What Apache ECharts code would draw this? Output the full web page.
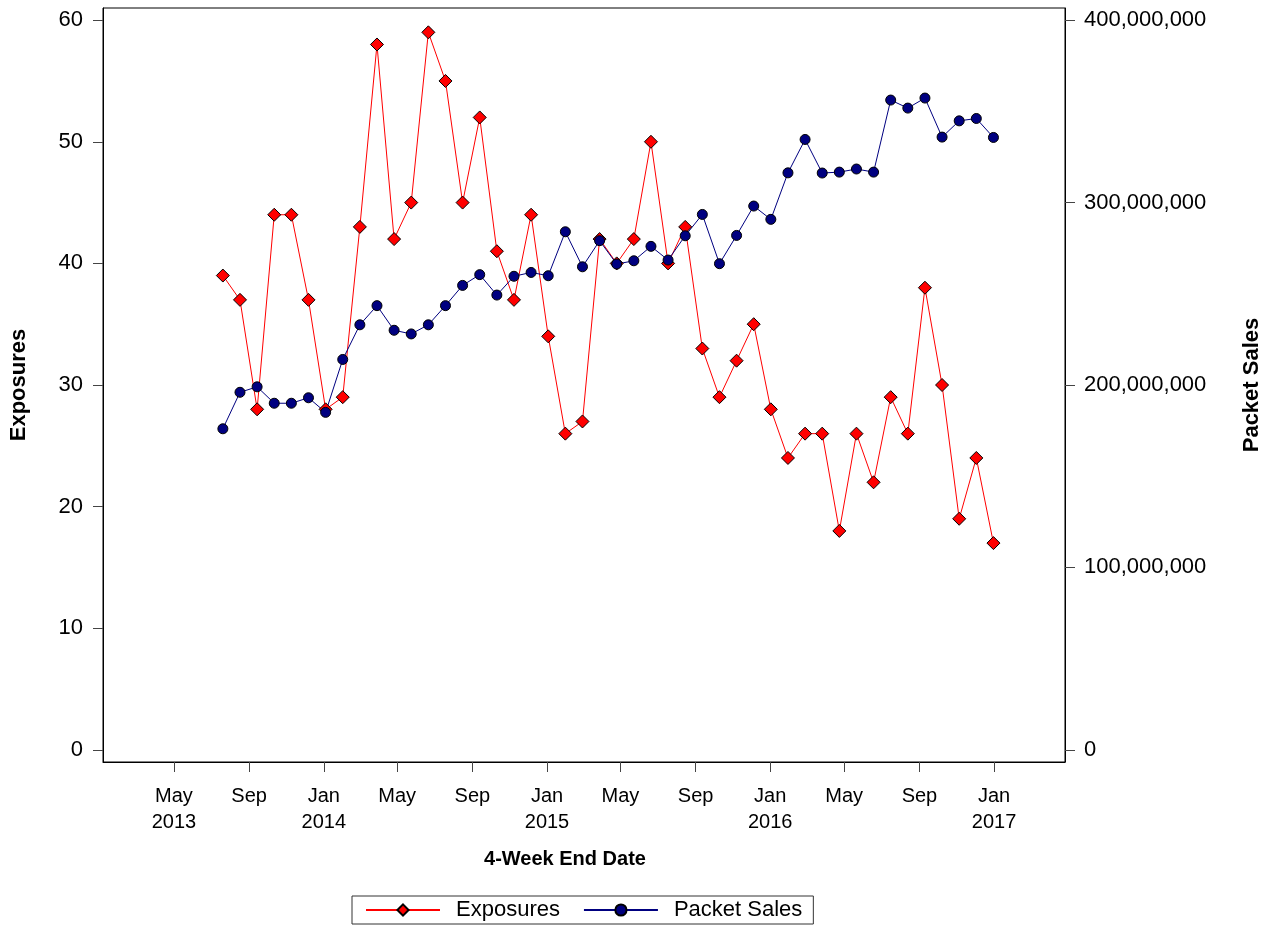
<!DOCTYPE html>
<html>
<head>
<meta charset="utf-8">
<script src="https://cdn.jsdelivr.net/npm/echarts@6/dist/echarts.min.js"></script>
<style>
html,body{margin:0;padding:0;background:#fff;}
#chart{width:1273px;height:926px;}
</style>
</head>
<body>
<div id="chart"></div>
<script>
const dates = ['2013-07-20','2013-08-17','2013-09-14','2013-10-12','2013-11-09','2013-12-07',
  '2014-01-04','2014-02-01','2014-03-01','2014-03-29','2014-04-26','2014-05-24','2014-06-21',
  '2014-07-19','2014-08-16','2014-09-13','2014-10-11','2014-11-08','2014-12-06',
  '2015-01-03','2015-01-31','2015-02-28','2015-03-28','2015-04-25','2015-05-23','2015-06-20',
  '2015-07-18','2015-08-15','2015-09-12','2015-10-10','2015-11-07','2015-12-05',
  '2016-01-02','2016-01-30','2016-02-27','2016-03-26','2016-04-23','2016-05-21','2016-06-18',
  '2016-07-16','2016-08-13','2016-09-10','2016-10-08','2016-11-05','2016-12-03','2016-12-31'];

const exposures = [39,37,28,44,44,37,28,29,43,58,42,45,59,55,45,52,41,37,44,34,
  26,27,42,40,42,50,40,43,33,29,32,35,28,24,26,26,18,26,22,29,26,38,30,19,24,17];

const packetSales = [176000000,196000000,199000000,190000000,190000000,193000000,185000000,
  214000000,233000000,243500000,230000000,228000000,233000000,243500000,254600000,260500000,
  249300000,259600000,261700000,259900000,284000000,264800000,279100000,266300000,268100000,
  276000000,268500000,281800000,293500000,266500000,282000000,298100000,290800000,316300000,
  334600000,316200000,316700000,318400000,316700000,356200000,351800000,357300000,335900000,
  344800000,346100000,335700000];

const xTickDates = ['2013-05-01','2013-09-01','2014-01-01','2014-05-01','2014-09-01','2015-01-01',
  '2015-05-01','2015-09-01','2016-01-01','2016-05-01','2016-09-01','2017-01-01'];
const xTickLabels = ['May\n2013','Sep','Jan\n2014','May','Sep','Jan\n2015','May','Sep','Jan\n2016','May','Sep','Jan\n2017'];
const leftTicks = [0,10,20,30,40,50,60];
const rightTicks = [0,100000000,200000000,300000000,400000000];

function toTs(s){ const p = s.split('-').map(Number); return Date.UTC(p[0], p[1]-1, p[2]); }
const xTickTs = xTickDates.map(toTs);

const FONT = '"Liberation Sans", Arial, Helvetica, sans-serif';
const chart = echarts.init(document.getElementById('chart'));
chart.setOption({
  animation: false,
  backgroundColor: '#fff',
  textStyle: { fontFamily: FONT, color: '#000' },
  grid: { left: 103, right: 208, top: 8, bottom: 164, show: true, borderColor: '#000', borderWidth: 1, containLabel: false },
  legend: {
    left: 352, top: 896,
    orient: 'horizontal',
    itemWidth: 74, itemHeight: 14, itemGap: 23,
    padding: [3, 11, 3, 13],
    borderColor: '#333', borderWidth: 1,
    textStyle: { fontSize: 22, fontFamily: FONT, color: '#000', padding: [0, 0, 0, 11] },
    data: ['Exposures', 'Packet Sales']
  },
  xAxis: {
    type: 'value',
    min: toTs('2013-01-05'), max: toTs('2017-04-27'),
    name: '4-Week End Date', nameLocation: 'middle', nameGap: 87,
    nameTextStyle: { fontSize: 20, fontWeight: 'bold', fontFamily: FONT, color: '#000', padding: [0, 38, 0, 0] },
    axisLine: { show: true, onZero: false, lineStyle: { color: '#000', width: 1 } },
    axisTick: { show: true, length: 10, lineStyle: { color: '#444' }, customValues: xTickTs },
    axisLabel: {
      show: true, customValues: xTickTs, fontSize: 20, lineHeight: 26, margin: 21, color: '#000', fontFamily: FONT,
      formatter: function (v) { const i = xTickTs.indexOf(Number(v)); return i >= 0 ? xTickLabels[i] : ''; }
    },
    splitLine: { show: false }
  },
  yAxis: [{
    type: 'value', position: 'left', min: -1, max: 61,
    name: 'Exposures', nameLocation: 'middle', nameGap: 73, nameRotate: 90,
    nameTextStyle: { fontSize: 22, fontWeight: 'bold', fontFamily: FONT, color: '#000' },
    axisLine: { show: true, onZero: false, lineStyle: { color: '#000', width: 1 } },
    axisTick: { show: true, length: 10, lineStyle: { color: '#444' }, customValues: leftTicks },
    axisLabel: { customValues: leftTicks, fontSize: 22, margin: 20, color: '#000', fontFamily: FONT },
    splitLine: { show: false }
  }, {
    type: 'value', position: 'right', min: -400000000 / 60, max: 400000000 + 400000000 / 60,
    name: 'Packet Sales', nameLocation: 'middle', nameGap: 176, nameRotate: 90,
    nameTextStyle: { fontSize: 22, fontWeight: 'bold', fontFamily: FONT, color: '#000' },
    axisLine: { show: true, onZero: false, lineStyle: { color: '#000', width: 1 } },
    axisTick: { show: true, length: 10, lineStyle: { color: '#444' }, customValues: rightTicks },
    axisLabel: { customValues: rightTicks, fontSize: 22, margin: 19, color: '#000', fontFamily: FONT,
      formatter: function (v) { return Number(v).toLocaleString('en-US'); } },
    splitLine: { show: false }
  }],
  series: [{
    name: 'Exposures', type: 'line', yAxisIndex: 0,
    data: dates.map((d, i) => [toTs(d), exposures[i]]),
    symbol: 'diamond', symbolSize: 13,
    lineStyle: { color: '#ff0000', width: 1 },
    itemStyle: { color: '#ff0000', borderColor: '#000', borderWidth: 1 },
    emphasis: { disabled: true }
  }, {
    name: 'Packet Sales', type: 'line', yAxisIndex: 1,
    data: dates.map((d, i) => [toTs(d), packetSales[i]]),
    symbol: 'circle', symbolSize: 10,
    lineStyle: { color: '#000080', width: 1 },
    itemStyle: { color: '#000080', borderColor: '#000', borderWidth: 1 },
    emphasis: { disabled: true }
  }]
});
</script>
</body>
</html>
